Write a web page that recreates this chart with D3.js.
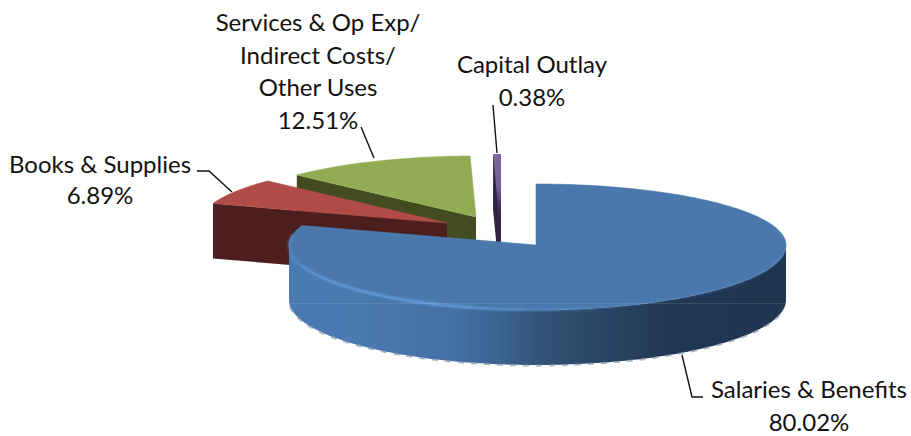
<!DOCTYPE html>
<html>
<head>
<meta charset="utf-8">
<title>Expenditure shares</title>
<script src="https://cdn.jsdelivr.net/npm/d3@7/dist/d3.min.js"></script>
<style>
  html, body { margin: 0; padding: 0; background: #fff; }
  svg { display: block; }
  text { font-family: Lato, "Open Sans", sans-serif; font-size: 24px; fill: #111; text-anchor: middle; }
</style>
</head>
<body>
<svg id="chart" width="911" height="436"></svg>
<script>
// Expenditure categories and their share of the total, in percent
const categories = ["Salaries & Benefits", "Books & Supplies", "Services & Op Exp/ Indirect Costs/ Other Uses", "Capital Outlay"];
const shares = [80.02, 6.89, 12.51, 0.38];
const labelLines = [
  ["Salaries & Benefits"],
  ["Books & Supplies"],
  ["Services & Op Exp/", "Indirect Costs/", "Other Uses"],
  ["Capital Outlay"]
];

// Pie geometry: tilted ellipse with a slightly larger near side, and a fixed wall height
const W = 911, H = 436;
const hub = { x: 536, y: 245 };
const radii = { left: 247, right: 250, back: 61, front: 65 };
const wall = 55;

// Per-slice presentation: how far each slice is pulled from the hub, and its colours
const pull = [[0, 0], [-89, -22], [-60, -28], [-36, -29]];
const topFill = ["#4a78ad", "#b04b48", "#92ac54", "#8064a2"];
const wallFill = ["url(#wallBlue)", "#4c1e1d", "#434c21", "#33233f"];

// Label anchors: centre x, first baseline, line step; leader polylines as [x, y] runs
const labelPlace = [
  { x: 809, y: 398, dy: 33 },
  { x: 100, y: 173, dy: 31 },
  { x: 318, y: 31, dy: 32.7 },
  { x: 532, y: 73, dy: 33 }
];
const leaders = [
  [[682, 355], [692, 397], [703, 397]],
  [[197, 171], [209, 171], [232, 192]],
  [[361, 127], [374, 158]],
  [[493, 105], [497, 153]]
];

const svg = d3.select("#chart").attr("viewBox", [0, 0, W, H]);
const defs = svg.append("defs");

// Horizontal shading of the large slice's outer wall
const wallGrad = defs.append("linearGradient").attr("id", "wallBlue")
  .attr("gradientUnits", "userSpaceOnUse").attr("x1", 290).attr("x2", 786).attr("y1", 0).attr("y2", 0);
[[0, "#4a7ab2"], [0.14, "#4a7ab0"], [0.32, "#466fa5"], [0.42, "#3c6592"], [0.5, "#325478"],
 [0.63, "#2a4564"], [0.76, "#213854"], [1, "#1f3550"]]
  .forEach(([o, c]) => wallGrad.append("stop").attr("offset", o).attr("stop-color", c));

// Bright bevel along the near rim, fading to the right
const rimGrad = defs.append("linearGradient").attr("id", "rimGlow")
  .attr("gradientUnits", "userSpaceOnUse").attr("x1", 290).attr("x2", 786).attr("y1", 0).attr("y2", 0);
[[0, 0.4], [0.08, 0.7], [0.28, 0.9], [0.5, 0.4], [0.72, 0.08], [1, 0.2]]
  .forEach(([o, a]) => rimGrad.append("stop").attr("offset", o).attr("stop-color", "#66a3e6").attr("stop-opacity", a));

defs.append("filter").attr("id", "soft").attr("x", "-5%").attr("y", "-20%").attr("width", "110%").attr("height", "140%")
  .append("feGaussianBlur").attr("stdDeviation", 1.3);

// Fading shade down the thin slice
const sliverGrad = defs.append("linearGradient").attr("id", "sliver")
  .attr("gradientUnits", "userSpaceOnUse").attr("x1", 0).attr("x2", 0).attr("y1", 155).attr("y2", 235);
[[0, "#8064a2"], [0.38, "#7a5e9b"], [0.7, "#3d2c54"], [1, "#2f2340"]]
  .forEach(([o, c]) => sliverGrad.append("stop").attr("offset", o).attr("stop-color", c));

// Slice angles, clockwise from twelve o'clock, converted to degrees
const arcs = d3.pie().sort(null)(shares).map(d => ({
  startAngle: d.startAngle * 180 / Math.PI,
  endAngle: d.endAngle * 180 / Math.PI
}));
const line = d3.line();

function rimPoint(c, deg, drop = 0) {
  const t = deg * Math.PI / 180, s = Math.sin(t), k = Math.cos(t);
  return [
    c.x + (s >= 0 ? radii.right : radii.left) * s,
    c.y - (k >= 0 ? radii.back : radii.front) * k + drop
  ];
}
function rimRun(c, a0, a1, drop = 0) {
  const n = Math.max(2, Math.ceil(Math.abs(a1 - a0)));
  return d3.range(n + 1).map(i => rimPoint(c, a0 + (a1 - a0) * i / n, drop));
}
const centerOf = i => ({ x: hub.x + pull[i][0], y: hub.y + pull[i][1] });
const layer = svg.append("g");

// Back-most slices are painted first so nearer ones cover them
[3, 2, 1, 0].forEach(i => {
  const c = centerOf(i), a = arcs[i], g = layer.append("g").attr("class", "slice");
  const ctr = [c.x, c.y], ctrLow = [c.x, c.y + wall];

  // Cut face on the starting side of the slice, seen from the front
  if (i !== 0) {
    const p = rimPoint(c, a.startAngle), q = rimPoint(c, a.startAngle, wall);
    g.append("path").attr("d", line([ctr, p, q, ctrLow]) + "Z").attr("fill", wallFill[i])
      .attr("stroke", i === 3 ? wallFill[i] : "none").attr("stroke-width", 2);
  }
  // Outer wall on the near half of the big slice
  if (i === 0) {
    const a0 = 90, a1 = 270;
    const top = rimRun(c, a0, a1), low = rimRun(c, a1, a0, wall);
    g.append("path").attr("d", line(top.concat(low)) + "Z").attr("fill", wallFill[0]);
    // Stepped pale fringe on the lower edge of the wall
    g.append("path").attr("d", line(rimRun(c, 103, 268, wall + 0.5)))
      .attr("fill", "none").attr("stroke", "#8d9db3").attr("stroke-width", 2).attr("stroke-dasharray", "6 7").attr("opacity", 0.75);
  }
  // Top surface
  const surface = [ctr].concat(rimRun(c, a.startAngle, a.endAngle));
  g.append("path").attr("d", line(surface) + "Z")
    .attr("fill", i === 3 ? "url(#sliver)" : topFill[i])
    .attr("stroke", i === 3 ? "url(#sliver)" : topFill[i])
    .attr("stroke-width", i === 3 ? 2 : 0.6)
    .attr("stroke-linejoin", "round");
  if (i === 0) {
    g.append("path").attr("d", line(rimRun(c, 95, 280)))
      .attr("fill", "none").attr("stroke", "url(#rimGlow)").attr("stroke-width", 2.6).attr("filter", "url(#soft)");
    // Faint seam across the near side
    g.append("line").attr("x1", 290).attr("x2", 786).attr("y1", c.y + 58.5).attr("y2", c.y + 58.5)
      .attr("stroke", "#fff").attr("stroke-opacity", 0.1).attr("stroke-width", 1);
  }
});

// Leader lines
svg.append("g").selectAll("path").data(leaders).join("path")
  .attr("d", d => line(d)).attr("fill", "none").attr("stroke", "#111").attr("stroke-width", 1.4);

// Labels: category lines followed by the percentage
const labels = svg.append("g").selectAll("text").data(categories).join("text")
  .attr("aria-label", d => d);
labels.each(function (d, i) {
  const place = labelPlace[i];
  const rows = labelLines[i].concat(shares[i].toFixed(2) + "%");
  d3.select(this).selectAll("tspan").data(rows).join("tspan")
    .attr("x", place.x).attr("y", (r, j) => place.y + j * place.dy).text(r => r);
});
</script>
</body>
</html>
